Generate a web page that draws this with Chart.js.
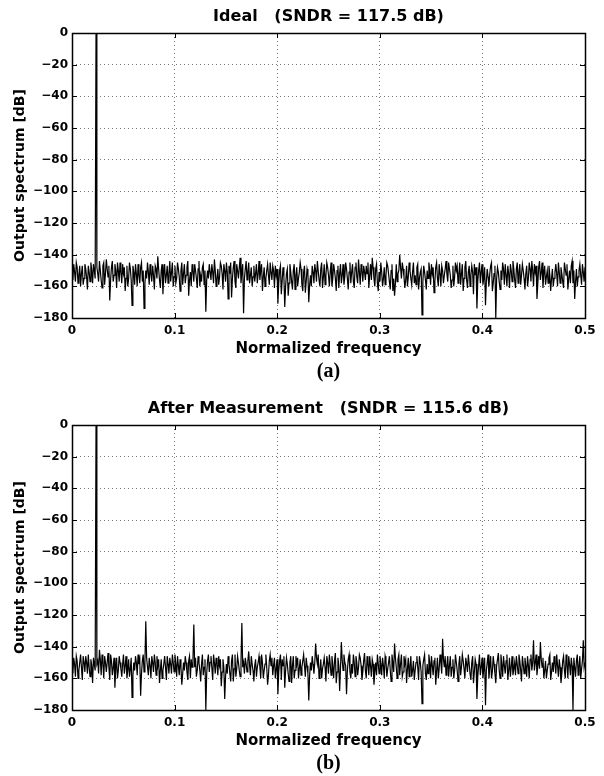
<!DOCTYPE html>
<html>
<head>
<meta charset="utf-8">
<title>Output spectrum</title>
<script src="https://cdn.jsdelivr.net/npm/chart.js@4.4.1/dist/chart.umd.min.js"></script>
<style>
  html, body { margin: 0; padding: 0; background: #fff; overflow: hidden; }
  #wrap { position: relative; width: 604px; height: 776px; }
  .panel { position: absolute; left: 0; width: 604px; height: 388px; }
</style>
</head>
<body>
<div id="wrap">
  <div class="panel" style="top:0"><canvas id="idealChart" width="604" height="388"></canvas></div>
  <div class="panel" style="top:392px"><canvas id="measuredChart" width="604" height="388"></canvas></div>
</div>
<script>
// axis ticks
const xTicks = [0, 0.1, 0.2, 0.3, 0.4, 0.5];
const xTickLabels = ['0', '0.1', '0.2', '0.3', '0.4', '0.5'];
const yTicks = [0, -20, -40, -60, -80, -100, -120, -140, -160, -180];
const yTickLabels = ['0', '\u221220', '\u221240', '\u221260', '\u221280', '\u2212100', '\u2212120', '\u2212140', '\u2212160', '\u2212180'];

// spectrum values in dB, evenly spaced bins from 0 to 0.5
const idealDb = [
  -150,-156,-146,-151,-157,-145,-148,-158,-153,-147,-160,-152,-147,-159,-155,-146,-149,-154,-162,-147,-151,-157,-145,-150,-158,-146,-150,-155,0,-148,-152,-157,-144,-150,-156,-161,-147,-145,-159,-152,
  -143,-149,-154,-147,-169,-156,-148,-144,-157,-153,-146,-150,-161,-145,-150,-157,-145,-151,-158,-146,-152,-148,-163,-155,-147,-160,-155,-145,-149,-156,-172,-147,-151,-159,-146,-152,-160,-146,-153,-158,
  -148,-145,-157,-150,-174,-158,-150,-155,-145,-151,-159,-146,-152,-157,-147,-153,-162,-147,-149,-155,-141,-149,-156,-161,-150,-146,-165,-152,-146,-158,-153,-147,-158,-152,-144,-157,-151,-145,-160,-154,
  -147,-158,-155,-145,-149,-154,-163,-150,-145,-159,-152,-146,-158,-153,-148,-144,-166,-156,-151,-160,-146,-150,-157,-146,-150,-155,-161,-149,-144,-160,-153,-157,-148,-146,-159,-150,-176,-156,-150,-155,
  -146,-151,-156,-146,-151,-158,-143,-150,-160,-155,-149,-159,-154,-145,-147,-152,-162,-146,-150,-157,-145,-151,-168,-147,-152,-145,-167,-155,-148,-144,-157,-161,-146,-150,-155,-148,-142,-158,-151,-146,
  -177,-155,-149,-144,-156,-151,-145,-158,-153,-148,-160,-154,-147,-157,-152,-146,-158,-152,-144,-156,-150,-146,-163,-154,-148,-160,-155,-150,-146,-153,-159,-145,-151,-156,-147,-150,-161,-147,-153,-149,
  -171,-158,-150,-147,-165,-156,-148,-154,-173,-160,-152,-149,-166,-158,-146,-151,-157,-162,-150,-146,-162,-153,-148,-160,-155,-151,-145,-149,-159,-163,-151,-147,-164,-157,-149,-152,-170,-159,-153,-160,
  -147,-151,-158,-146,-150,-157,-144,-150,-156,-160,-149,-145,-161,-154,-146,-159,-153,-145,-148,-153,-160,-151,-145,-160,-155,-146,-150,-155,-163,-150,-147,-161,-152,-146,-158,-153,-146,-159,-154,-145,
  -149,-155,-162,-151,-145,-158,-151,-146,-157,-161,-148,-145,-154,-158,-143,-151,-159,-146,-150,-157,-147,-151,-156,-147,-152,-145,-161,-153,-146,-156,-142,-148,-155,-160,-149,-146,-158,-163,-151,-157,
  -145,-151,-160,-155,-148,-159,-153,-145,-147,-152,-157,-162,-150,-146,-163,-155,-166,-158,-146,-157,-152,-150,-140,-148,-155,-145,-149,-154,-161,-156,-147,-160,-154,-145,-150,-155,-159,-151,-145,-158,
  -153,-159,-148,-146,-162,-155,-151,-149,-178,-157,-147,-151,-156,-162,-150,-155,-145,-150,-159,-146,-152,-148,-164,-157,-148,-145,-155,-160,-146,-152,-160,-147,-150,-158,-153,-149,-144,-152,-157,-145,
  -149,-153,-161,-156,-147,-160,-154,-145,-150,-147,-158,-152,-145,-159,-152,-146,-163,-155,-148,-144,-156,-161,-151,-147,-160,-153,-147,-151,-165,-146,-153,-148,-174,-157,-150,-145,-158,-151,-146,-159,
  -155,-148,-172,-157,-149,-154,-160,-152,-147,-145,-163,-158,-152,-147,-180,-155,-148,-151,-157,-162,-150,-156,-145,-149,-159,-146,-153,-160,-147,-152,-161,-146,-150,-157,-144,-149,-156,-161,-149,-145,
  -158,-151,-146,-159,-153,-146,-150,-155,-162,-152,-147,-160,-155,-145,-149,-157,-144,-150,-160,-146,-151,-147,-168,-158,-148,-144,-156,-151,-145,-161,-152,-147,-159,-154,-150,-158,-147,-153,-163,-155,
  -149,-160,-155,-151,-146,-152,-160,-145,-151,-158,-148,-152,-157,-161,-145,-149,-153,-146,-162,-155,-150,-158,-147,-144,-158,-150,-168,-157,-149,-160,-154,-150,-146,-153,-159,-146,-151,-157,-148
];

const measuredDb = [
  -152,-157,-147,-151,-159,-146,-149,-160,-155,-150,-145,-153,-161,-146,-150,-156,-146,-150,-157,-145,-153,-159,-148,-152,-163,-147,-151,-155,0,-151,-149,-157,-142,-148,-158,-145,-150,-160,-146,-150,
  -156,-150,-144,-153,-161,-145,-149,-158,-153,-147,-166,-154,-147,-160,-155,-146,-150,-154,-159,-151,-145,-157,-152,-146,-160,-155,-148,-159,-154,-147,-172,-158,-150,-155,-146,-150,-158,-145,-151,-148,
  -171,-157,-149,-145,-156,-150,-124,-147,-153,-158,-147,-152,-160,-146,-150,-156,-145,-150,-158,-146,-152,-148,-163,-155,-148,-160,-155,-151,-146,-153,-161,-146,-151,-157,-147,-151,-157,-145,-150,-156,
  -145,-151,-159,-146,-152,-158,-148,-153,-164,-157,-150,-155,-146,-150,-156,-161,-149,-146,-160,-148,-153,-148,-126,-153,-147,-159,-155,-146,-150,-155,-162,-151,-145,-158,-153,-148,-180,-157,-149,-145,
  -156,-150,-146,-153,-161,-145,-150,-157,-147,-151,-158,-146,-152,-148,-165,-156,-148,-153,-173,-159,-151,-157,-146,-151,-157,-162,-149,-145,-162,-154,-145,-159,-154,-146,-150,-155,-159,-149,-125,-153,
  -150,-157,-147,-151,-156,-149,-143,-152,-158,-146,-151,-155,-162,-152,-148,-159,-153,-150,-146,-153,-160,-145,-150,-160,-155,-151,-145,-153,-164,-158,-149,-145,-152,-147,-158,-152,-147,-160,-154,-148,
  -170,-156,-149,-145,-161,-148,-152,-146,-166,-155,-147,-151,-157,-162,-150,-146,-163,-152,-146,-160,-155,-146,-151,-147,-160,-154,-148,-158,-153,-149,-145,-152,-159,-147,-152,-157,-174,-158,-150,-155,
  -146,-151,-157,-150,-138,-147,-151,-145,-160,-155,-148,-160,-154,-151,-147,-153,-162,-146,-150,-157,-145,-151,-158,-146,-152,-160,-149,-144,-163,-156,-147,-152,-168,-153,-137,-149,-155,-145,-150,-152,
  -170,-155,-148,-145,-156,-160,-151,-157,-145,-150,-159,-146,-150,-158,-153,-145,-147,-152,-161,-156,-149,-144,-155,-160,-146,-151,-158,-146,-152,-159,-148,-151,-164,-156,-150,-158,-145,-151,-157,-146,
  -151,-158,-147,-152,-160,-146,-149,-159,-154,-150,-146,-155,-162,-145,-150,-156,-138,-147,-153,-160,-148,-145,-158,-151,-145,-159,-156,-146,-151,-148,-163,-154,-147,-159,-152,-146,-159,-155,-149,-161,
  -155,-150,-146,-153,-161,-146,-150,-156,-176,-152,-148,-145,-157,-161,-151,-157,-145,-150,-160,-146,-152,-158,-149,-147,-164,-155,-147,-160,-154,-145,-150,-157,-135,-148,-153,-146,-158,-152,-146,-159,
  -152,-146,-159,-153,-148,-160,-155,-145,-150,-155,-162,-151,-146,-158,-153,-145,-149,-154,-160,-147,-151,-156,-145,-151,-157,-161,-150,-146,-163,-156,-148,-151,-173,-159,-152,-145,-158,-153,-147,-160,
  -154,-147,-177,-155,-150,-145,-160,-153,-146,-160,-156,-146,-151,-157,-163,-152,-148,-144,-155,-160,-145,-151,-159,-146,-152,-157,-149,-145,-161,-155,-147,-159,-153,-146,-158,-154,-150,-158,-146,-151,
  -157,-145,-149,-155,-162,-146,-151,-157,-147,-152,-159,-146,-152,-160,-148,-145,-155,-150,-136,-155,-150,-145,-158,-152,-146,-154,-137,-148,-153,-147,-160,-155,-149,-160,-155,-151,-147,-145,-161,-156,
  -150,-156,-146,-151,-157,-145,-152,-159,-148,-153,-163,-157,-149,-146,-155,-160,-145,-151,-160,-146,-151,-158,-147,-152,-180,-147,-153,-159,-149,-145,-158,-152,-146,-160,-154,-149,-136,-153,-150
];

const FREQ_MAX = 0.5;

Chart.defaults.font.family = "'DejaVu Sans', sans-serif";
Chart.defaults.font.weight = 'bold';
Chart.defaults.color = '#000';

// black box round the plot area plus inward tick marks, matlab style
const frameBox = {
  id: 'frameBox',
  afterDatasetsDraw(chart) {
    const { ctx, chartArea: a, scales: { x, y } } = chart;
    const tick = 5;
    ctx.save();
    ctx.strokeStyle = '#000';
    ctx.lineWidth = 1;
    ctx.beginPath();
    xTicks.forEach(v => {
      const px = Math.round(x.getPixelForValue(v)) + 0.5;
      ctx.moveTo(px, a.bottom); ctx.lineTo(px, a.bottom - tick);
      ctx.moveTo(px, a.top); ctx.lineTo(px, a.top + tick);
    });
    yTicks.forEach(v => {
      const py = Math.round(y.getPixelForValue(v)) + 0.5;
      ctx.moveTo(a.left, py); ctx.lineTo(a.left + tick, py);
      ctx.moveTo(a.right, py); ctx.lineTo(a.right - tick, py);
    });
    ctx.stroke();
    ctx.lineWidth = 1.5;
    ctx.strokeRect(Math.round(a.left) + 0.5, Math.round(a.top) + 0.5,
      Math.round(a.right - a.left), Math.round(a.bottom - a.top));
    ctx.restore();
  }
};

// empty axis that only carries a title, so the text centres on the plot area
function titleAxis(position, weight, text, font, padding, size) {
  return {
    type: 'linear',
    position,
    weight,
    min: 0,
    max: FREQ_MAX,
    ticks: { display: false },
    grid: { display: false, drawTicks: false },
    border: { display: false },
    afterFit: s => { s.height = size; },
    title: { display: true, text, font, padding }
  };
}

function makeChart(canvasId, titleText, tag, values) {
  const step = FREQ_MAX / (values.length - 1);
  const points = values.map((v, i) => ({ x: i * step, y: v }));

  return new Chart(document.getElementById(canvasId), {
    type: 'line',
    data: {
      datasets: [{
        data: points,
        xAxisID: 'x',
        yAxisID: 'y',
        borderColor: '#000',
        borderWidth: 1.2,
        pointRadius: 0,
        tension: 0,
        fill: false
      }]
    },
    options: {
      responsive: false,
      animation: false,
      layout: { padding: { left: 0, right: 19, top: 0, bottom: 0 } },
      plugins: {
        legend: { display: false },
        tooltip: { enabled: false }
      },
      scales: {
        x: {
          type: 'linear',
          position: 'bottom',
          weight: 0,
          min: 0,
          max: FREQ_MAX,
          afterBuildTicks: s => { s.ticks = xTicks.map(v => ({ value: v })); },
          afterFit: s => { s.height = 42; },
          ticks: {
            autoSkip: false,
            maxRotation: 0,
            padding: 6,
            font: { size: 12 },
            callback: (v, i) => xTickLabels[i]
          },
          grid: { color: '#777', lineWidth: 1, drawTicks: false },
          border: { display: false, dash: [1, 3] },
          title: {
            display: true,
            text: 'Normalized frequency',
            font: { size: 15, weight: 'bold' },
            padding: { top: 0, bottom: 2 }
          }
        },
        y: {
          min: -180,
          max: 0,
          afterBuildTicks: s => { s.ticks = yTicks.slice().reverse().map(v => ({ value: v })); },
          afterFit: s => { s.width = 72; },
          ticks: {
            padding: 4,
            font: { size: 12 },
            callback: v => yTickLabels[yTicks.indexOf(v)]
          },
          grid: { color: '#777', lineWidth: 1, drawTicks: false },
          border: { display: false, dash: [1, 3] },
          title: {
            display: true,
            text: 'Output spectrum [dB]',
            font: { size: 14, weight: 'bold' },
            padding: { top: 12, bottom: 0 }
          }
        },
        xTitle: titleAxis('top', 1, titleText, { size: 16, weight: 'bold' }, { top: 7, bottom: 7 }, 33),
        xCaption: titleAxis('bottom', 1, tag,
          { family: "'Liberation Serif', serif", size: 20, weight: 'bold' }, { top: 0, bottom: 4 }, 28)
      }
    },
    plugins: [frameBox]
  });
}

makeChart('idealChart', 'Ideal   (SNDR = 117.5 dB)', '(a)', idealDb);
makeChart('measuredChart', 'After Measurement   (SNDR = 115.6 dB)', '(b)', measuredDb);
</script>
</body>
</html>
